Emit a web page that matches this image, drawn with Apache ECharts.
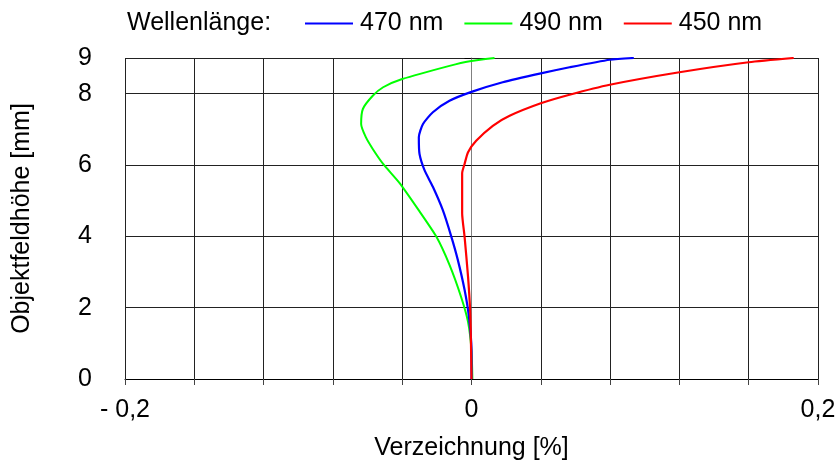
<!DOCTYPE html>
<html>
<head>
<meta charset="utf-8">
<script src="https://cdn.jsdelivr.net/npm/echarts@6/dist/echarts.min.js"></script>
<style>
  html, body { margin: 0; padding: 0; background: #fff; }
  #chart { width: 840px; height: 470px; }
</style>
</head>
<body>
<div id="chart"></div>
<script>
// Objektfeldhöhe [mm] vs. Verzeichnung [%]
const h490 = [0, 0.8, 1.6, 2.3, 3.2, 4.0, 4.7, 5.5, 6.03, 6.45, 6.78, 7.15, 7.57, 7.94, 8.18, 8.41, 8.78, 8.91, 9.0];
const d490 = [0.0005, 0, -0.002, -0.006, -0.0127, -0.0204, -0.030, -0.0416, -0.051, -0.057, -0.061, -0.0637, -0.0627, -0.057, -0.051, -0.040, -0.0127, -0.001, 0.0133];

const h470 = [0, 0.8, 1.75, 2.5, 3.34, 4.0, 4.74, 5.39, 5.84, 6.31, 6.78, 7.15, 7.48, 7.8, 8.05, 8.32, 8.57, 8.74, 8.95, 9.0];
const d470 = [0, 0, -0.0015, -0.004, -0.0079, -0.0117, -0.0166, -0.0223, -0.027, -0.030, -0.0304, -0.028, -0.0223, -0.0127, 0, 0.018, 0.040, 0.0566, 0.0798, 0.0937];

const h450 = [0, 1.0, 1.93, 2.87, 3.99, 4.65, 5.51, 5.77, 6.03, 6.36, 6.68, 7.10, 7.38, 7.73, 7.97, 8.25, 8.60, 8.88, 9.0];
const d450 = [0, -0.0003, -0.0008, -0.002, -0.004, -0.0054, -0.0054, -0.0054, -0.004, -0.002, 0.0027, 0.0123, 0.022, 0.040, 0.0566, 0.0798, 0.120, 0.160, 0.186];

const legendOrder = ["470 nm", "490 nm", "450 nm"];
const xTickLabels = { "-0.2": "- 0,2", "0": "0", "0.2": "0,2" };

function pairs(d, h) {
  return d.map((v, i) => [v, h[i]]);
}

const font = "'Liberation Sans', Arial, sans-serif";
const chart = echarts.init(document.getElementById("chart"));

const option = {
  animation: false,
  textStyle: { fontFamily: font },
  title: {
    text: "Wellenlänge:",
    left: 127,
    top: 11,
    padding: 0,
    textStyle: { fontFamily: font, fontSize: 25, fontWeight: "normal", color: "#000" }
  },
  legend: {
    data: legendOrder,
    left: 305,
    top: 11,
    padding: 0,
    icon: "rect",
    itemWidth: 48,
    itemHeight: 2,
    itemGap: 21,
    textStyle: { fontFamily: font, fontSize: 25, color: "#000", padding: [0, 0, 0, 2] }
  },
  grid: {
    left: 125,
    right: 22,
    top: 58,
    bottom: 91,
    containLabel: false
  },
  xAxis: {
    type: "value",
    min: -0.2,
    max: 0.2,
    interval: 0.04,
    name: "Verzeichnung [%]",
    nameLocation: "middle",
    nameGap: 57,
    nameTextStyle: { fontFamily: font, fontSize: 25, color: "#000" },
    axisLine: { show: true, onZero: false, lineStyle: { color: "#000", width: 1 } },
    axisTick: { show: true, length: 6, lineStyle: { color: "#444" } },
    axisLabel: {
      margin: 19,
      fontFamily: font,
      fontSize: 25,
      color: "#000",
      showMinLabel: true,
      showMaxLabel: true,
      formatter: function (v) {
        const key = String(Math.round(v * 100) / 100);
        return xTickLabels[key] || "";
      }
    },
    splitLine: { show: true, lineStyle: { color: "#222", width: 1 } }
  },
  yAxis: {
    type: "value",
    min: 0,
    max: 9,
    interval: 2,
    name: "Objektfeldhöhe [mm]",
    nameLocation: "middle",
    nameGap: 90,
    nameTextStyle: { fontFamily: font, fontSize: 25, color: "#000" },
    axisLine: { show: true, lineStyle: { color: "#808080", width: 1 } },
    axisTick: { show: true, length: 7, lineStyle: { color: "#000" } },
    axisLabel: {
      margin: 33,
      fontFamily: font,
      fontSize: 25,
      color: "#000",
      showMaxLabel: true
    },
    splitLine: { show: true, lineStyle: { color: "#222", width: 1 } }
  },
  series: [
    {
      name: "490 nm",
      type: "line",
      data: pairs(d490, h490),
      symbol: "none",
      smooth: 0.2,
      lineStyle: { color: "#00ff00", width: 2 },
      itemStyle: { color: "#00ff00" }
    },
    {
      name: "470 nm",
      type: "line",
      data: pairs(d470, h470),
      symbol: "none",
      smooth: 0.2,
      lineStyle: { color: "#0000ff", width: 2.2 },
      itemStyle: { color: "#0000ff" }
    },
    {
      name: "450 nm",
      type: "line",
      data: pairs(d450, h450),
      symbol: "none",
      smooth: 0.2,
      lineStyle: { color: "#ff0000", width: 2.2 },
      itemStyle: { color: "#ff0000" }
    }
  ]
};

chart.setOption(option);
</script>
</body>
</html>
